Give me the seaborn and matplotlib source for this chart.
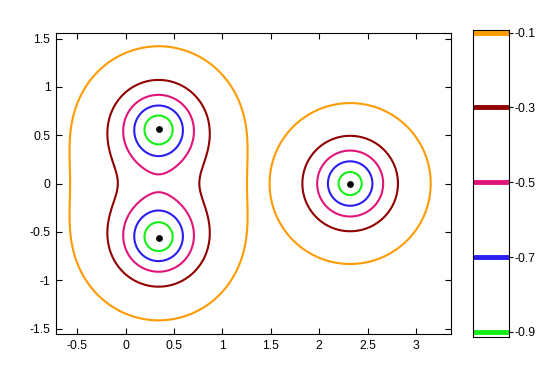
import matplotlib
matplotlib.use('Agg')
import matplotlib.pyplot as plt
import numpy as np
import pandas as pd
import seaborn as sns

# source points (black markers) and which blob each belongs to
src_x = [0.34, 0.34, 2.32]
src_y = [0.565, -0.56, 0.0]
src_group = [0, 0, 1]

# radial profile of one source: -1 / (1 + (r/a)^2 + (r/b)^4)
scale_a = 0.36
scale_b = 0.602

levels = [-0.9, -0.7, -0.5, -0.3, -0.1]
level_colors = ['#14f014', '#2a1ef0', '#e0147a', '#900000', '#ff9a00']
level_labels = ['-0.9', '-0.7', '-0.5', '-0.3', '-0.1']

xlim = (-0.72, 3.36)
ylim = (-1.557, 1.557)

sns.set_theme(style='white')
plt.rcParams['font.family'] = ['Liberation Sans', 'DejaVu Sans']

# field on a grid: sources add up inside a blob, blobs don't mix
gx = np.linspace(xlim[0], xlim[1], 700)
gy = np.linspace(ylim[0], ylim[1], 540)
X, Y = np.meshgrid(gx, gy)
blobs = {}
for sx, sy, g in zip(src_x, src_y, src_group):
    r = np.hypot(X - sx, Y - sy)
    f = 1.0 / (1.0 + (r / scale_a) ** 2 + (r / scale_b) ** 4)
    blobs[g] = blobs.get(g, 0) - f
Z = np.minimum.reduce(list(blobs.values()))

fig = plt.figure(figsize=(5.6, 3.8), dpi=100)
ax = fig.add_axes([0.1, 0.121, 0.705, 0.792])
ax.contour(X, Y, Z, levels=levels, colors=level_colors, linewidths=1.5)

df_src = pd.DataFrame({'x': src_x, 'y': src_y})
sns.scatterplot(data=df_src, x='x', y='y', ax=ax, color='black', marker='o',
                s=24, linewidth=0, zorder=5)

ax.set_xlim(xlim)
ax.set_ylim(ylim)
ax.set_xlabel('')
ax.set_ylabel('')
ax.set_xticks([-0.5, 0, 0.5, 1, 1.5, 2, 2.5, 3])
ax.set_xticklabels(['-0.5', '0', '0.5', '1', '1.5', '2', '2.5', '3'])
ax.set_yticks([-1.5, -1, -0.5, 0, 0.5, 1, 1.5])
ax.set_yticklabels(['-1.5', '-1', '-0.5', '0', '0.5', '1', '1.5'])
ax.tick_params(direction='in', length=4, width=0.8, top=True, right=True,
               bottom=True, left=True, labelsize=8.7, colors='black', pad=4)
for sp in ax.spines.values():
    sp.set_color('black')
    sp.set_linewidth(0.8)

# colorbar drawn as its own axis
cax = fig.add_axes([0.8455, 0.114, 0.064, 0.807])
cax.hlines(levels, 0, 1, colors=level_colors, linewidth=3.5)
cax.set_xlim(0, 1)
cax.set_ylim(-0.913, -0.093)
cax.set_xticks([])
cax.yaxis.tick_right()
cax.set_yticks(levels)
cax.set_yticklabels(level_labels)
cax.tick_params(axis='y', direction='out', length=3, width=0.8, labelsize=8.7,
                colors='black', pad=1)
for sp in cax.spines.values():
    sp.set_color('black')
    sp.set_linewidth(0.8)

fig.savefig('out.png', dpi=100, facecolor='white')
